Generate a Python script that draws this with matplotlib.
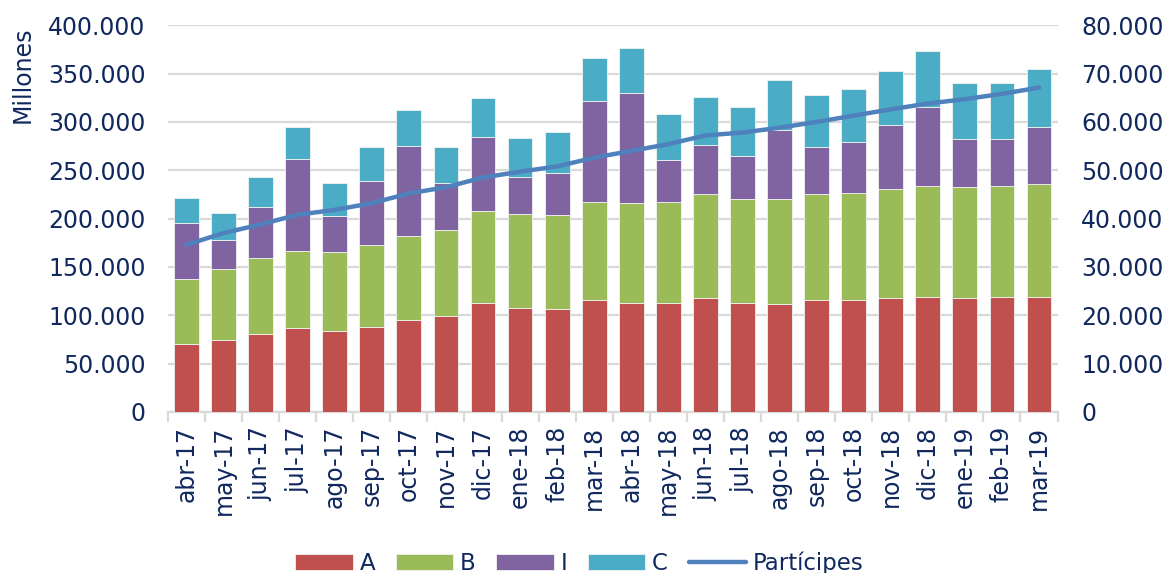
import numpy as np
import matplotlib.pyplot as plt
from matplotlib.ticker import FuncFormatter

meses = ['abr-17', 'may-17', 'jun-17', 'jul-17', 'ago-17', 'sep-17', 'oct-17', 'nov-17',
         'dic-17', 'ene-18', 'feb-18', 'mar-18', 'abr-18', 'may-18', 'jun-18', 'jul-18',
         'ago-18', 'sep-18', 'oct-18', 'nov-18', 'dic-18', 'ene-19', 'feb-19', 'mar-19']

# cumulative tops (millones)
top_a = [70.5, 74.7, 80.6, 86.4, 83.3, 88.4, 95.4, 98.8, 112.2, 107.7, 106.4, 115.3,
         113.2, 113.2, 117.4, 112.2, 112.0, 115.3, 115.3, 117.4, 119.4, 118.4, 119.4, 119.4]
top_b = [137.7, 147.7, 159.1, 166.6, 165.6, 172.8, 182.4, 188.3, 208.0, 204.9, 203.8, 216.9,
         216.2, 216.9, 225.5, 220.4, 220.4, 225.5, 226.9, 231.0, 233.8, 232.7, 233.8, 235.8]
top_i = [195.8, 178.3, 212.4, 262.0, 203.1, 239.3, 275.1, 236.6, 284.4, 242.8, 247.5, 321.9,
         330.2, 261.0, 275.8, 265.1, 291.6, 274.4, 279.6, 297.1, 315.7, 282.6, 282.3, 295.1]
top_c = [221.4, 206.2, 243.4, 295.0, 236.9, 274.4, 312.3, 274.4, 324.7, 283.8, 289.6, 366.3,
         376.3, 308.2, 326.1, 315.4, 343.0, 327.5, 333.8, 352.9, 372.9, 339.9, 340.6, 354.6]
participes = [34.6, 37.0, 38.8, 40.8, 41.8, 43.2, 45.2, 46.5, 48.5, 49.7, 50.8, 52.6,
              54.0, 55.4, 57.2, 57.8, 58.8, 60.0, 61.3, 62.6, 63.8, 64.7, 65.8, 67.1]

A = np.array(top_a) * 1000
B = (np.array(top_b) - np.array(top_a)) * 1000
I = (np.array(top_i) - np.array(top_b)) * 1000
C = (np.array(top_c) - np.array(top_i)) * 1000
P = np.array(participes) * 1000

txt = '#10285E'
fs = 17
plt.rcParams['font.family'] = 'DejaVu Sans'

fig = plt.figure(figsize=(11.66, 5.73), dpi=100)
ax = fig.add_axes([0.144, 0.281, 0.763, 0.675])
x = np.arange(len(meses))
w = 0.67
ec = '#F2F2F2'
b1 = ax.bar(x, A, w, color='#C0504D', edgecolor=ec, linewidth=0.6, label='A', zorder=3)
b2 = ax.bar(x, B, w, bottom=A, color='#9BBB59', edgecolor=ec, linewidth=0.6, label='B', zorder=3)
b3 = ax.bar(x, I, w, bottom=A + B, color='#8064A2', edgecolor=ec, linewidth=0.6, label='I', zorder=3)
b4 = ax.bar(x, C, w, bottom=A + B + I, color='#4BACC6', edgecolor=ec, linewidth=0.6, label='C', zorder=3)

fmt = FuncFormatter(lambda v, p: f'{int(v):,}'.replace(',', '.'))
ax.set_xlim(-0.5, len(meses) - 0.5)
ax.set_ylim(0, 400000)
ax.set_yticks(np.arange(0, 400001, 50000))
ax.yaxis.set_major_formatter(fmt)
ax.grid(axis='y', color='#D9D9D9', linewidth=1.6, zorder=0)
ax.set_axisbelow(True)
for s in ['top', 'left', 'right']:
    ax.spines[s].set_visible(False)
ax.spines['bottom'].set_color('#D9D9D9')
ax.spines['bottom'].set_linewidth(1.6)
ax.set_xticks(x)
ax.set_xticklabels(meses, rotation=90, fontsize=fs, color=txt)
ax.set_xticks(np.arange(-0.5, len(meses), 1), minor=True)
ax.tick_params(axis='x', which='major', length=0, pad=10)
ax.tick_params(axis='x', which='minor', length=7, width=1.6, color='#D9D9D9')
ax.tick_params(axis='y', length=0, labelsize=fs, labelcolor=txt, pad=16)

ax2 = ax.twinx()
ln, = ax2.plot(x, P, color='#4F81BD', linewidth=3.2, solid_capstyle='round', label='Partícipes')
ax2.set_ylim(0, 80000)
ax2.set_yticks(np.arange(0, 80001, 10000))
ax2.yaxis.set_major_formatter(fmt)
ax2.tick_params(axis='y', length=0, labelsize=fs, labelcolor=txt, pad=17)
for s in ['top', 'left', 'right', 'bottom']:
    ax2.spines[s].set_visible(False)

fig.text(0.009, 0.953, 'Millones', rotation=90, va='top', ha='left', fontsize=17, color=txt)

fig.legend([b1, b2, b3, b4, ln], ['A', 'B', 'I', 'C', 'Partícipes'], loc='lower center',
           bbox_to_anchor=(0.497, -0.04), ncol=5, frameon=False, fontsize=16.5,
           labelcolor=txt, handlelength=2.5, handleheight=0.7, columnspacing=0.9,
           handletextpad=0.3)

fig.savefig('out.png', dpi=100)
